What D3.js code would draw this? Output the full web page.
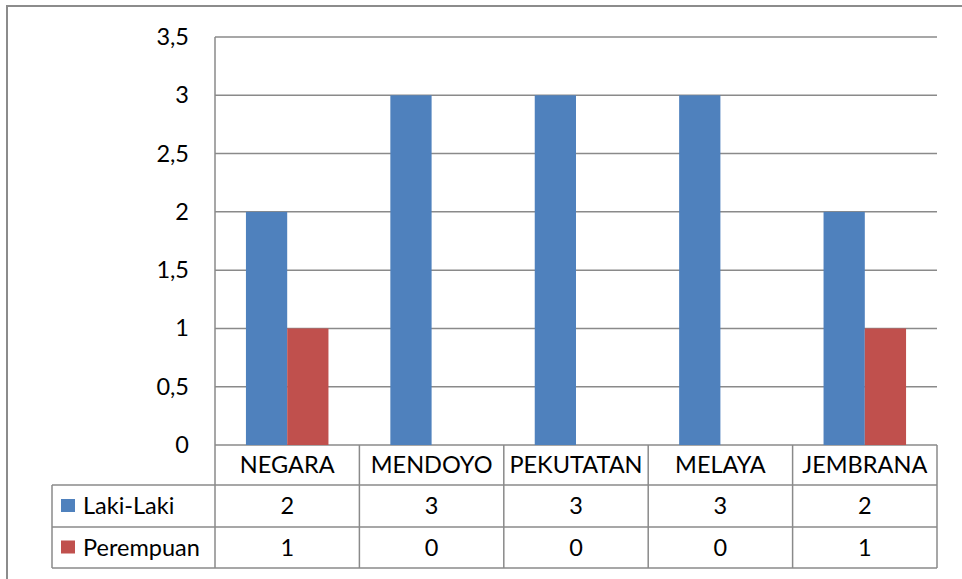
<!DOCTYPE html>
<html>
<head>
<meta charset="utf-8">
<script src="https://cdn.jsdelivr.net/npm/d3@7"></script>
<style>
  html, body { margin: 0; padding: 0; background: #fff; }
  svg { display: block; }
  text { font-family: Lato, "Open Sans", sans-serif; fill: #000; }
</style>
</head>
<body>
<svg id="chart" width="962" height="579"></svg>
<script>
// Kecamatan di Kabupaten Jembrana
const categories = ["NEGARA", "MENDOYO", "PEKUTATAN", "MELAYA", "JEMBRANA"];
const seriesNames = ["Laki-Laki", "Perempuan"];
const lakiLaki = [2, 3, 3, 3, 2];
const perempuan = [1, 0, 0, 0, 1];
const seriesColors = ["#4F81BD", "#C0504D"];
const yTicks = [0, 0.5, 1, 1.5, 2, 2.5, 3, 3.5];

const seriesValues = [lakiLaki, perempuan];

const svg = d3.select("#chart");
const W = 962, H = 579;

const plot = { left: 215, right: 937, top: 37, bottom: 445 };
const table = { left: 52, rowH: [40, 42, 41] };
const gridColor = "#8a8a8a";
const fontSize = 23.5;

// chart area frame
svg.append("rect")
  .attr("x", 7).attr("y", 6)
  .attr("width", W).attr("height", H)
  .attr("fill", "none")
  .attr("stroke", "#8c8c8c")
  .attr("stroke-width", 2);

const y = d3.scaleLinear().domain([0, 3.5]).range([plot.bottom, plot.top]);
const x = d3.scaleBand().domain(categories).range([plot.left, plot.right]).padding(0);

// gap width 150% -> each bar is band / (2 + 1.5)
const barW = x.bandwidth() / 3.5;
const xInner = d3.scaleBand().domain(seriesNames)
  .range([0, barW * 2]).padding(0);

// horizontal gridlines
svg.append("g").selectAll("line")
  .data(yTicks)
  .join("line")
  .attr("x1", plot.left).attr("x2", plot.right)
  .attr("y1", d => y(d)).attr("y2", d => y(d))
  .attr("stroke", gridColor).attr("stroke-width", 1.5);

// y axis labels
const fmt = d => String(d).replace(".", ",");
const yAxis = d3.axisLeft(y).tickValues(yTicks).tickFormat(fmt).tickSize(0).tickPadding(0);
const yg = svg.append("g")
  .attr("transform", `translate(${plot.left - 26},0)`)
  .call(yAxis);
yg.select(".domain").remove();
yg.selectAll("text")
  .attr("font-size", fontSize)
  .attr("font-family", "Lato, 'Open Sans', sans-serif")
  .attr("fill", "#000");

// bars
const groups = svg.append("g").selectAll("g")
  .data(categories)
  .join("g")
  .attr("transform", c => `translate(${x(c) + x.bandwidth() / 2 - barW},0)`);

groups.selectAll("rect")
  .data((c, i) => seriesNames.map((s, k) => ({ s, k, v: seriesValues[k][i] })))
  .join("rect")
  .filter(d => d.v > 0)
  .attr("x", d => xInner(d.s))
  .attr("width", xInner.bandwidth())
  .attr("y", d => y(d.v))
  .attr("height", d => y(0) - y(d.v))
  .attr("fill", d => seriesColors[d.k]);

// vertical axis line
svg.append("line")
  .attr("x1", plot.left).attr("x2", plot.left)
  .attr("y1", plot.top).attr("y2", plot.bottom)
  .attr("stroke", gridColor).attr("stroke-width", 1.5);

// data table below the plot
const rowTop = [plot.bottom, plot.bottom + table.rowH[0], plot.bottom + table.rowH[0] + table.rowH[1]];
const tableBottom = rowTop[2] + table.rowH[2];
const tg = svg.append("g");
const edges = [plot.left, ...categories.map(c => x(c) + x.bandwidth())];

// header row vertical lines
edges.forEach(ex => {
  tg.append("line")
    .attr("x1", ex).attr("x2", ex)
    .attr("y1", plot.bottom).attr("y2", tableBottom)
    .attr("stroke", gridColor).attr("stroke-width", 1.5);
});
// horizontal lines
[rowTop[1], rowTop[2], tableBottom].forEach(ly => {
  tg.append("line")
    .attr("x1", table.left).attr("x2", plot.right)
    .attr("y1", ly).attr("y2", ly)
    .attr("stroke", gridColor).attr("stroke-width", 1.5);
});
tg.append("line")
  .attr("x1", table.left).attr("x2", table.left)
  .attr("y1", rowTop[1]).attr("y2", tableBottom)
  .attr("stroke", gridColor).attr("stroke-width", 1.5);

// category labels
tg.selectAll("text.cat")
  .data(categories)
  .join("text")
  .attr("class", "cat")
  .attr("x", c => x(c) + x.bandwidth() / 2)
  .attr("y", plot.bottom + table.rowH[0] / 2)
  .attr("dy", "0.35em")
  .attr("text-anchor", "middle")
  .attr("font-size", fontSize)
  .text(c => c);

// value rows
seriesNames.forEach((s, k) => {
  const cy = rowTop[k + 1] + table.rowH[k + 1] / 2;
  tg.append("rect")
    .attr("x", 61).attr("y", cy - 7)
    .attr("width", 14).attr("height", 13)
    .attr("fill", seriesColors[k]);
  tg.append("text")
    .attr("x", 83).attr("y", cy)
    .attr("dy", "0.35em")
    .attr("font-size", fontSize)
    .text(s);
  tg.selectAll(null)
    .data(seriesValues[k])
    .join("text")
    .attr("x", (v, i) => x(categories[i]) + x.bandwidth() / 2)
    .attr("y", cy)
    .attr("dy", "0.35em")
    .attr("text-anchor", "middle")
    .attr("font-size", fontSize)
    .text(v => v);
});
</script>
</body>
</html>
